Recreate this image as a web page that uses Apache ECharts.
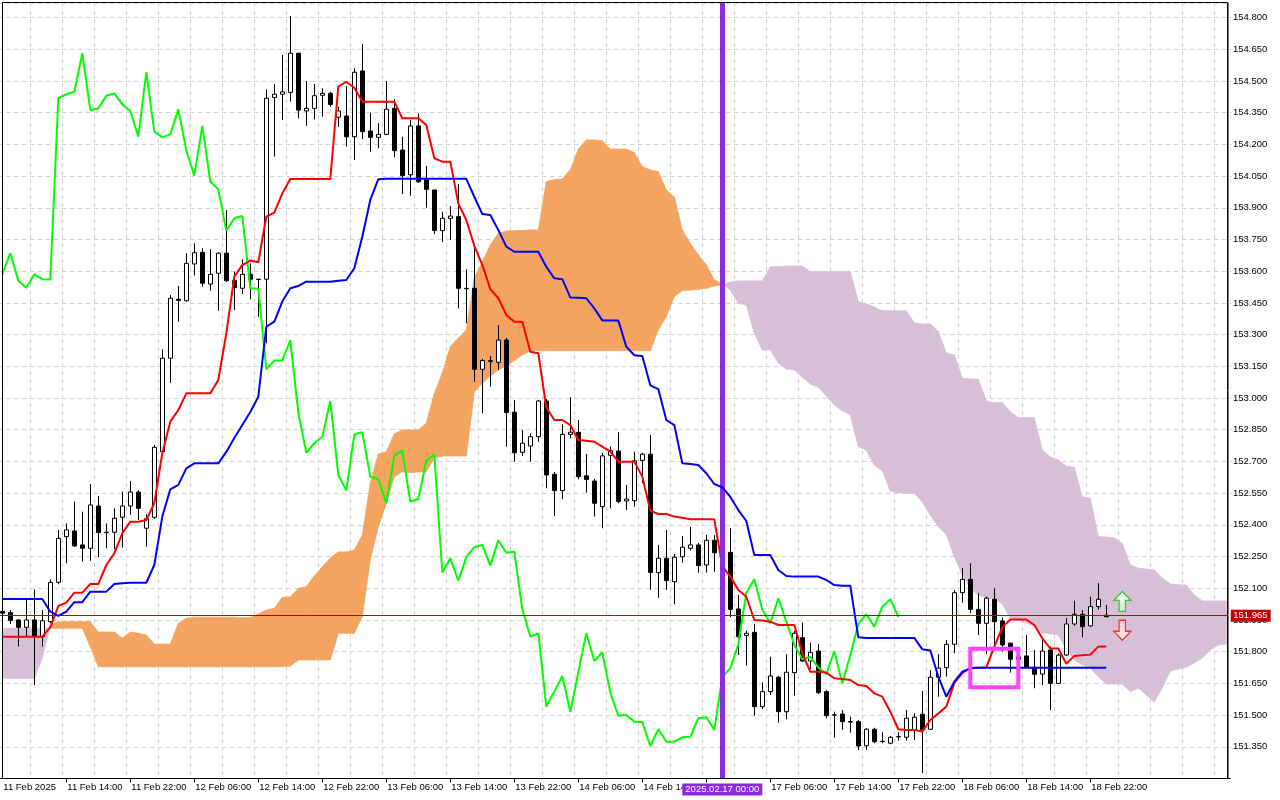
<!DOCTYPE html>
<html><head><meta charset="utf-8">
<script src="https://cdn.jsdelivr.net/npm/echarts/dist/echarts.min.js"></script>
<style>html,body{margin:0;padding:0;background:#fff}#chart{width:1280px;height:800px}</style>
</head><body><div id="chart"></div>
<script>
// ---------- DATA (hourly bars, first = 11 Feb 06:00) ----------
const sessionDays = [['11 Feb', 6], ['12 Feb', 0], ['13 Feb', 0], ['14 Feb', 0], ['17 Feb', 0], ['18 Feb', 0], ['19 Feb', 0]];
const slotCount = 154;
const firstAxisLabel = '11 Feb 2025';
const labelTimes = ['11 Feb 14:00','11 Feb 22:00','12 Feb 06:00','12 Feb 14:00','12 Feb 22:00','13 Feb 06:00','13 Feb 14:00','13 Feb 22:00','14 Feb 06:00','14 Feb 14:00','17 Feb 06:00','17 Feb 14:00','17 Feb 22:00','18 Feb 06:00','18 Feb 14:00','18 Feb 22:00'];
const tickOnlyTimes = ['14 Feb 22:00'];
const yTicks = {min: 151.2, interval: 0.15};

// [open, close, low, high]
const candles = [
[151.990,151.982,151.965,151.997],[151.985,151.947,151.931,151.997],[151.950,151.915,151.824,151.955],[151.915,151.950,151.871,152.045],
[151.950,151.874,151.642,152.095],[151.871,151.946,151.824,151.997],[151.942,152.128,151.934,152.142],[152.128,152.336,152.119,152.376],
[152.344,152.376,152.218,152.407],[152.371,152.300,152.295,152.510],[152.305,152.289,152.226,152.462],[152.289,152.494,152.230,152.593],
[152.489,152.363,152.247,152.537],[152.363,152.365,152.289,152.407],[152.365,152.431,152.284,152.478],[152.436,152.489,152.292,152.557],
[152.489,152.555,152.447,152.607],[152.555,152.478,152.423,152.565],[152.384,152.429,152.297,152.450],[152.436,152.767,152.428,152.778],
[152.746,153.188,152.740,153.230],[153.188,153.472,153.072,153.487],[153.467,153.462,153.361,153.530],[153.460,153.637,153.456,153.685],
[153.634,153.687,153.579,153.732],[153.689,153.543,153.527,153.708],[153.539,153.585,153.508,153.704],[153.590,153.685,153.413,153.689],
[153.685,153.555,153.549,153.889],[153.555,153.522,153.416,153.598],[153.519,153.585,153.492,153.656],[153.585,153.562,153.467,153.637],
[153.562,153.561,153.385,153.563],[153.562,154.418,153.259,154.460],[154.422,154.437,154.142,154.485],[154.437,154.448,154.315,154.623],
[154.446,154.631,154.402,154.807],[154.631,154.362,154.323,154.633],[154.358,154.370,154.288,154.500],[154.370,154.430,154.318,154.485],
[154.432,154.441,154.331,154.465],[154.441,154.389,154.378,154.448],[154.328,154.358,154.283,154.378],[154.334,154.236,154.189,154.476],
[154.236,154.541,154.126,154.560],[154.547,154.260,154.225,154.675],[154.263,154.233,154.165,154.350],[154.233,154.247,154.181,154.300],
[154.247,154.366,154.244,154.500],[154.370,154.170,154.139,154.413],[154.173,154.052,153.965,154.236],[154.056,154.287,153.957,154.315],
[154.287,154.023,154.017,154.347],[154.031,153.987,153.900,154.098],[153.984,153.792,153.776,153.984],[153.792,153.850,153.737,153.881],
[153.850,153.861,153.747,153.908],[153.858,153.519,153.424,154.012],[153.519,153.517,153.353,153.609],[153.519,153.136,153.077,153.708],
[153.136,153.177,152.928,153.185],[153.172,153.177,153.054,153.199],[153.169,153.274,153.133,153.345],[153.274,152.931,152.770,153.284],
[152.933,152.741,152.699,152.991],[152.743,152.786,152.726,152.849],[152.773,152.817,152.699,152.833],[152.817,152.986,152.793,152.991],
[152.986,152.636,152.573,152.995],[152.639,152.562,152.442,152.650],[152.562,152.828,152.521,152.876],[152.828,152.838,152.809,153.004],
[152.838,152.628,152.615,152.896],[152.632,152.615,152.552,152.735],[152.607,152.502,152.439,152.617],[152.486,152.726,152.384,152.740],
[152.729,152.751,152.478,152.770],[152.749,152.510,152.502,152.838],[152.513,152.522,152.470,152.589],[152.514,152.703,152.486,152.746],
[152.705,152.734,152.597,152.741],[152.734,152.174,152.092,152.825],[152.174,152.242,152.055,152.305],[152.242,152.136,152.092,152.376],
[152.131,152.247,152.024,152.262],[152.249,152.294,152.221,152.347],[152.289,152.305,152.278,152.391],[152.305,152.207,152.174,152.314],
[152.210,152.327,152.174,152.352],[152.327,152.268,152.178,152.351],[152.268,152.273,152.200,152.320],[152.270,152.000,151.963,152.384],
[152.002,151.871,151.784,152.068],[151.877,151.887,151.734,151.899],[151.892,151.540,151.497,151.931],[151.540,151.611,151.528,151.655],
[151.611,151.685,151.595,151.776],[151.679,151.516,151.464,151.685],[151.516,151.703,151.480,151.788],[151.701,151.887,151.592,151.898],
[151.866,151.756,151.751,151.939],[151.756,151.797,151.718,151.843],[151.803,151.606,151.600,151.836],[151.611,151.497,151.485,151.619],
[151.501,151.500,151.393,151.516],[151.505,151.469,151.430,151.524],[151.469,151.467,151.417,151.493],[151.469,151.354,151.335,151.477],
[151.355,151.433,151.335,151.438],[151.433,151.374,151.367,151.440],[151.376,151.375,151.367,151.419],[151.367,151.395,151.362,151.401],
[151.397,151.398,151.379,151.419],[151.395,151.485,151.379,151.524],[151.430,151.490,151.382,151.509],[151.504,151.430,151.225,151.614],
[151.433,151.679,151.430,151.713],[151.679,151.722,151.587,151.788],[151.724,151.835,151.682,151.855],[151.835,152.079,151.792,152.092],
[152.079,152.142,152.032,152.195],[152.142,152.000,151.982,152.218],[152.000,151.934,151.879,152.076],[151.934,152.053,151.789,152.060],
[152.048,151.942,151.824,152.100],[151.945,151.832,151.800,151.961],[151.840,151.764,151.701,151.843],[151.764,151.775,151.740,151.800],
[151.780,151.726,151.723,151.879],[151.726,151.693,151.627,151.808],[151.694,151.803,151.642,151.855],[151.808,151.650,151.524,151.824],
[151.650,151.784,151.647,151.792],[151.784,151.931,151.780,151.958],[151.931,151.977,151.922,152.041],[151.977,151.918,151.868,151.997],
[151.922,152.013,151.918,152.060],[152.013,152.048,151.999,152.124],[151.972,151.965,151.963,152.021]
];

const tenkan = [
151.871,151.871,151.871,151.871,151.871,151.871,151.915,152.016,152.032,152.079,
152.079,152.120,152.120,152.210,152.265,152.360,152.415,152.415,152.423,152.502,
152.739,152.888,152.943,153.022,153.022,153.022,153.022,153.085,153.306,153.574,
153.629,153.650,153.642,153.858,153.877,153.968,154.036,154.036,154.036,154.036,
154.036,154.036,154.473,154.496,154.468,154.402,154.402,154.402,154.402,154.402,
154.323,154.323,154.323,154.291,154.134,154.118,154.118,153.921,153.842,153.720,
153.630,153.515,153.472,153.393,153.361,153.361,153.219,153.212,152.955,152.896,
152.896,152.872,152.801,152.798,152.793,152.770,152.746,152.699,152.699,152.699,
152.628,152.466,152.451,152.451,152.439,152.434,152.426,152.426,152.426,152.426,
152.205,152.155,152.092,152.060,151.950,151.947,151.942,151.926,151.926,151.926,
151.792,151.705,151.705,151.701,151.674,151.671,151.666,151.642,151.638,151.603,
151.587,151.516,151.433,151.430,151.430,151.422,151.477,151.508,151.540,151.651,
151.698,151.724,151.724,151.726,151.824,151.915,151.952,151.952,151.952,151.926,
151.863,151.815,151.815,151.743,151.780,151.783,151.786,151.824,151.824
];

const kijun = [
152.049,152.049,152.049,152.049,152.049,152.049,151.989,151.969,151.989,152.034,
152.034,152.084,152.084,152.084,152.120,152.124,152.126,152.126,152.126,152.210,
152.439,152.568,152.589,152.667,152.691,152.691,152.691,152.691,152.745,152.811,
152.872,152.934,153.006,153.337,153.361,153.456,153.519,153.530,153.550,153.550,
153.550,153.550,153.555,153.558,153.614,153.763,153.937,154.035,154.037,154.037,
154.037,154.037,154.037,154.037,154.037,154.037,154.037,154.037,154.037,153.952,
153.870,153.866,153.795,153.716,153.692,153.692,153.692,153.692,153.621,153.566,
153.562,153.476,153.474,153.472,153.424,153.367,153.367,153.367,153.243,153.202,
153.199,153.060,153.042,152.896,152.872,152.691,152.688,152.683,152.644,152.593,
152.578,152.532,152.470,152.418,152.257,152.257,152.257,152.186,152.158,152.155,
152.155,152.155,152.155,152.139,152.115,152.112,152.112,151.868,151.865,151.865,
151.865,151.865,151.865,151.865,151.865,151.811,151.806,151.682,151.587,151.658,
151.705,151.721,151.724,151.724,151.724,151.724,151.724,151.724,151.724,151.724,
151.724,151.724,151.724,151.724,151.724,151.724,151.724,151.724,151.724
];

const chikou = [
153.585,153.685,153.555,153.522,153.585,153.562,153.561,154.418,154.437,154.448,
154.631,154.362,154.370,154.430,154.441,154.389,154.358,154.236,154.541,154.260,
154.233,154.247,154.366,154.170,154.052,154.287,154.023,153.987,153.792,153.850,
153.861,153.519,153.517,153.136,153.177,153.177,153.274,152.931,152.741,152.786,
152.817,152.986,152.636,152.562,152.828,152.838,152.628,152.615,152.502,152.726,
152.751,152.510,152.522,152.703,152.734,152.174,152.242,152.136,152.247,152.294,
152.305,152.207,152.327,152.268,152.273,152.000,151.871,151.887,151.540,151.611,
151.685,151.516,151.703,151.887,151.756,151.797,151.606,151.497,151.500,151.469,
151.467,151.354,151.433,151.374,151.375,151.395,151.398,151.485,151.490,151.430,
151.679,151.722,151.835,152.079,152.142,152.000,151.934,152.053,151.942,151.832,
151.764,151.775,151.726,151.693,151.803,151.650,151.784,151.931,151.977,151.918,
152.013,152.048,151.965
];

const senkouA = [
151.674,151.674,151.674,151.674,151.674,151.769,151.926,151.942,151.942,151.942,
151.942,151.942,151.893,151.893,151.893,151.863,151.893,151.887,151.879,151.836,
151.836,151.836,151.934,151.958,151.963,151.963,151.963,151.963,151.963,151.963,
151.961,151.961,151.978,151.997,152.005,152.057,152.059,152.100,152.107,152.158,
152.202,152.243,152.272,152.272,152.281,152.352,152.598,152.735,152.746,152.830,
152.849,152.849,152.849,152.880,153.022,153.118,153.243,153.284,153.322,153.568,
153.645,153.724,153.779,153.790,153.791,153.793,153.795,153.795,154.023,154.033,
154.037,154.079,154.177,154.221,154.221,154.217,154.178,154.178,154.178,154.160,
154.094,154.079,154.071,153.984,153.950,153.795,153.732,153.677,153.629,153.558,
153.539,153.511,153.448,153.440,153.308,153.227,153.227,153.166,153.136,153.133,
153.099,153.066,153.051,153.010,152.967,152.939,152.920,152.770,152.754,152.683,
152.655,152.560,152.552,152.549,152.549,152.508,152.447,152.391,152.353,152.249,
152.163,152.101,152.068,152.055,152.051,152.026,151.958,151.950,151.936,151.922,
151.888,151.884,151.879,151.808,151.761,151.737,151.723,151.682,151.647,151.647,
151.647,151.611,151.627,151.595,151.563,151.628,151.709,151.718,151.726,151.747,
151.770,151.808,151.832,151.836
];

const senkouB = [
151.911,151.911,151.911,151.911,151.911,151.911,151.911,151.911,151.911,151.911,
151.911,151.824,151.729,151.729,151.729,151.729,151.729,151.729,151.729,151.729,
151.729,151.729,151.729,151.729,151.729,151.729,151.729,151.729,151.729,151.729,
151.729,151.729,151.729,151.729,151.729,151.729,151.732,151.761,151.761,151.761,
151.761,151.761,151.887,151.887,151.887,151.966,152.234,152.391,152.502,152.628,
152.651,152.647,152.650,152.651,152.716,152.726,152.726,152.726,152.726,153.028,
153.070,153.104,153.133,153.151,153.177,153.204,153.224,153.224,153.224,153.224,
153.224,153.224,153.224,153.224,153.224,153.224,153.224,153.224,153.224,153.224,
153.224,153.224,153.322,153.385,153.479,153.508,153.511,153.514,153.519,153.530,
153.535,153.549,153.554,153.554,153.554,153.554,153.621,153.621,153.624,153.624,
153.624,153.598,153.598,153.598,153.598,153.598,153.598,153.456,153.445,153.431,
153.413,153.413,153.413,153.413,153.356,153.350,153.350,153.314,153.213,153.204,
153.093,153.090,153.089,152.986,152.978,152.978,152.935,152.907,152.907,152.907,
152.754,152.721,152.707,152.678,152.672,152.532,152.526,152.344,152.343,152.338,
152.313,152.210,152.195,152.191,152.186,152.149,152.120,152.117,152.115,152.068,
152.040,152.040,152.040,152.040
];

const lastPrice = 151.965;
const cursorTime = '17 Feb 00:00';
const cursorText = '2025.02.17 00:00';
const boxObject = {from: '18 Feb 07:00', to: '18 Feb 13:00', top: 151.814, bottom: 151.632};
const arrowUp = ['19 Feb 02:00', 152.038];
const arrowDown = ['19 Feb 02:00', 151.901];

// ---------- BUILD ----------
function pad(n) { return (n < 10 ? '0' : '') + n; }
const categories = [];
for (const [day, h0] of sessionDays) {
  for (let h = h0; h < 24 && categories.length < slotCount; h++) categories.push(day + ' ' + pad(h) + ':00');
}
const tickTimes = labelTimes.concat(tickOnlyTimes);

const cloudItems = senkouA.slice(0, -1).map((a, i) => [i, a, senkouB[i], senkouA[i + 1], senkouB[i + 1]]);
const UP = '#F4A460', DOWN = '#D8BFD8';

function renderCloud(params, api) {
  const i = api.value(0);
  const a0 = api.value(1), b0 = api.value(2), a1 = api.value(3), b1 = api.value(4);
  const A0 = api.coord([i, a0]), B0 = api.coord([i, b0]);
  const A1 = api.coord([i + 1, a1]), B1 = api.coord([i + 1, b1]);
  const poly = (pts, up) => ({type: 'polygon', shape: {points: pts},
    style: {fill: up ? UP : DOWN, stroke: up ? UP : DOWN, lineWidth: 0.8}});
  const d0 = a0 - b0, d1 = a1 - b1;
  const children = [];
  if (d0 * d1 >= 0) {
    children.push(poly([A0, A1, B1, B0], (d0 + d1) >= 0));
  } else {
    const t = d0 / (d0 - d1);
    const X = [A0[0] + (A1[0] - A0[0]) * t, A0[1] + (A1[1] - A0[1]) * t];
    children.push(poly([A0, X, B0], d0 > 0));
    children.push(poly([X, A1, B1], d1 > 0));
  }
  return {type: 'group', children};
}

function renderBox(params, api) {
  const p0 = api.coord([api.value(0), api.value(1)]);
  const p1 = api.coord([api.value(2), api.value(3)]);
  return {type: 'rect', shape: {x: p0[0], y: p0[1], width: p1[0] - p0[0], height: p1[1] - p0[1]},
    style: {fill: 'none', stroke: '#ff40ff', lineWidth: 4}};
}

const FONT = 'Liberation Sans';
const FS = 9.5;
const gridLine = {color: '#d2d2d2', type: [4, 4], width: 1};

const chart = echarts.init(document.getElementById('chart'), null, {renderer: 'canvas'});
chart.setOption({
  animation: false,
  backgroundColor: '#fff',
  grid: {left: -1.7, right: 49.7, top: 3, bottom: 21.5, containLabel: false, outerBoundsMode: 'none'},
  xAxis: {
    type: 'category', data: categories, boundaryGap: true,
    axisLine: {show: true, lineStyle: {color: '#000', width: 1}},
    axisTick: {show: true, alignWithLabel: true, length: 4, lineStyle: {color: '#000'},
      interval: (i, v) => tickTimes.includes(v)},
    axisLabel: {interval: (i, v) => i === 0 || labelTimes.includes(v),
      formatter: (v, i) => i === 0 ? firstAxisLabel : v,
      align: 'left', padding: [0, 0, 0, 1], margin: 4, fontSize: FS, fontFamily: FONT, color: '#000'},
    splitLine: {show: true, interval: (i) => i % 4 === 0, lineStyle: gridLine}
  },
  yAxis: {
    type: 'value', position: 'right', min: yTicks.min, max: 154.8686, interval: yTicks.interval, offset: -2.3,
    axisLine: {show: true, lineStyle: {color: '#000', width: 1}},
    axisTick: {show: true, length: 3, lineStyle: {color: '#000'}},
    axisLabel: {margin: 5, fontSize: FS, fontFamily: FONT, color: '#000', showMinLabel: false, showMaxLabel: false,
      formatter: (v) => v.toFixed(3)},
    splitLine: {show: true, lineStyle: gridLine}
  },
  graphic: [
    {type: 'rect', z: 99, silent: true, shape: {x: 1228.5, y: 0, width: 2.2, height: 778}, style: {fill: '#fff'}},
    {type: 'rect', z: 100, silent: true, shape: {x: 2.5, y: 2.5, width: 1225, height: 776}, style: {fill: 'none', stroke: '#000', lineWidth: 1}}
  ],
  series: [
    {type: 'custom', name: 'Kumo', renderItem: renderCloud, data: cloudItems, clip: true, z: 1, silent: true,
      encode: {x: 0, y: [1, 2, 3, 4]}},
    {type: 'candlestick', name: 'USDJPY', data: candles, barWidth: 5, z: 2, silent: true, clip: true,
      itemStyle: {color: '#ffffff', color0: '#000000', borderColor: '#000000', borderColor0: '#000000', borderWidth: 1}},
    {type: 'line', name: 'Chikou', data: chikou, symbol: 'none', z: 3, silent: true,
      lineStyle: {color: '#00ff00', width: 2}},
    {type: 'line', name: 'Tenkan', data: tenkan, symbol: 'none', z: 4, silent: true,
      lineStyle: {color: '#ff0000', width: 2}},
    {type: 'line', name: 'Kijun', data: kijun, symbol: 'none', z: 5, silent: true,
      lineStyle: {color: '#0000ff', width: 2},
      markLine: {silent: true, animation: false, symbol: ['none', 'none'],
        data: [
          {yAxis: lastPrice, lineStyle: {color: '#c00000', width: 1, type: 'solid'},
            label: {show: true, position: 'end', distance: 0, formatter: lastPrice.toFixed(3), color: '#fff',
              backgroundColor: '#c00000', padding: [1, 3, 1, 3], fontSize: FS, fontFamily: FONT}},
          {xAxis: cursorTime, lineStyle: {color: '#8a2be2', width: 5, type: 'solid'},
            label: {show: true, position: 'start', distance: 5, formatter: cursorText, color: '#fff',
              backgroundColor: '#8a2be2', padding: [1, 3, 1, 3], fontSize: FS, fontFamily: FONT}}
        ]},
      markPoint: {silent: true, animation: false, label: {show: false},
        data: [
          {coord: arrowUp, symbol: 'path://M8,0 L16,9 L11,9 L11,20 L5,20 L5,9 L0,9 Z', symbolSize: [17, 20],
            itemStyle: {color: {type: 'linear', x: 0, y: 0, x2: 0, y2: 1, colorStops: [{offset: 0, color: '#f4fff0'}, {offset: 1, color: '#c8f2c0'}]},
              borderColor: '#40c040', borderWidth: 1.3}},
          {coord: arrowDown, symbol: 'path://M5,0 L11,0 L11,11 L16,11 L8,20 L0,11 L5,11 Z', symbolSize: [17, 20],
            itemStyle: {color: {type: 'linear', x: 0, y: 0, x2: 0, y2: 1, colorStops: [{offset: 0, color: '#ffc8c8'}, {offset: 1, color: '#fff4f4'}]},
              borderColor: '#ff3030', borderWidth: 1.3}}
        ]}
    },
    {type: 'custom', name: 'Box', renderItem: renderBox, z: 6, silent: true, clip: true,
      encode: {x: [0, 2], y: [1, 3]},
      data: [[categories.indexOf(boxObject.from), boxObject.top, categories.indexOf(boxObject.to), boxObject.bottom]]}
  ]
});
</script></body></html>
